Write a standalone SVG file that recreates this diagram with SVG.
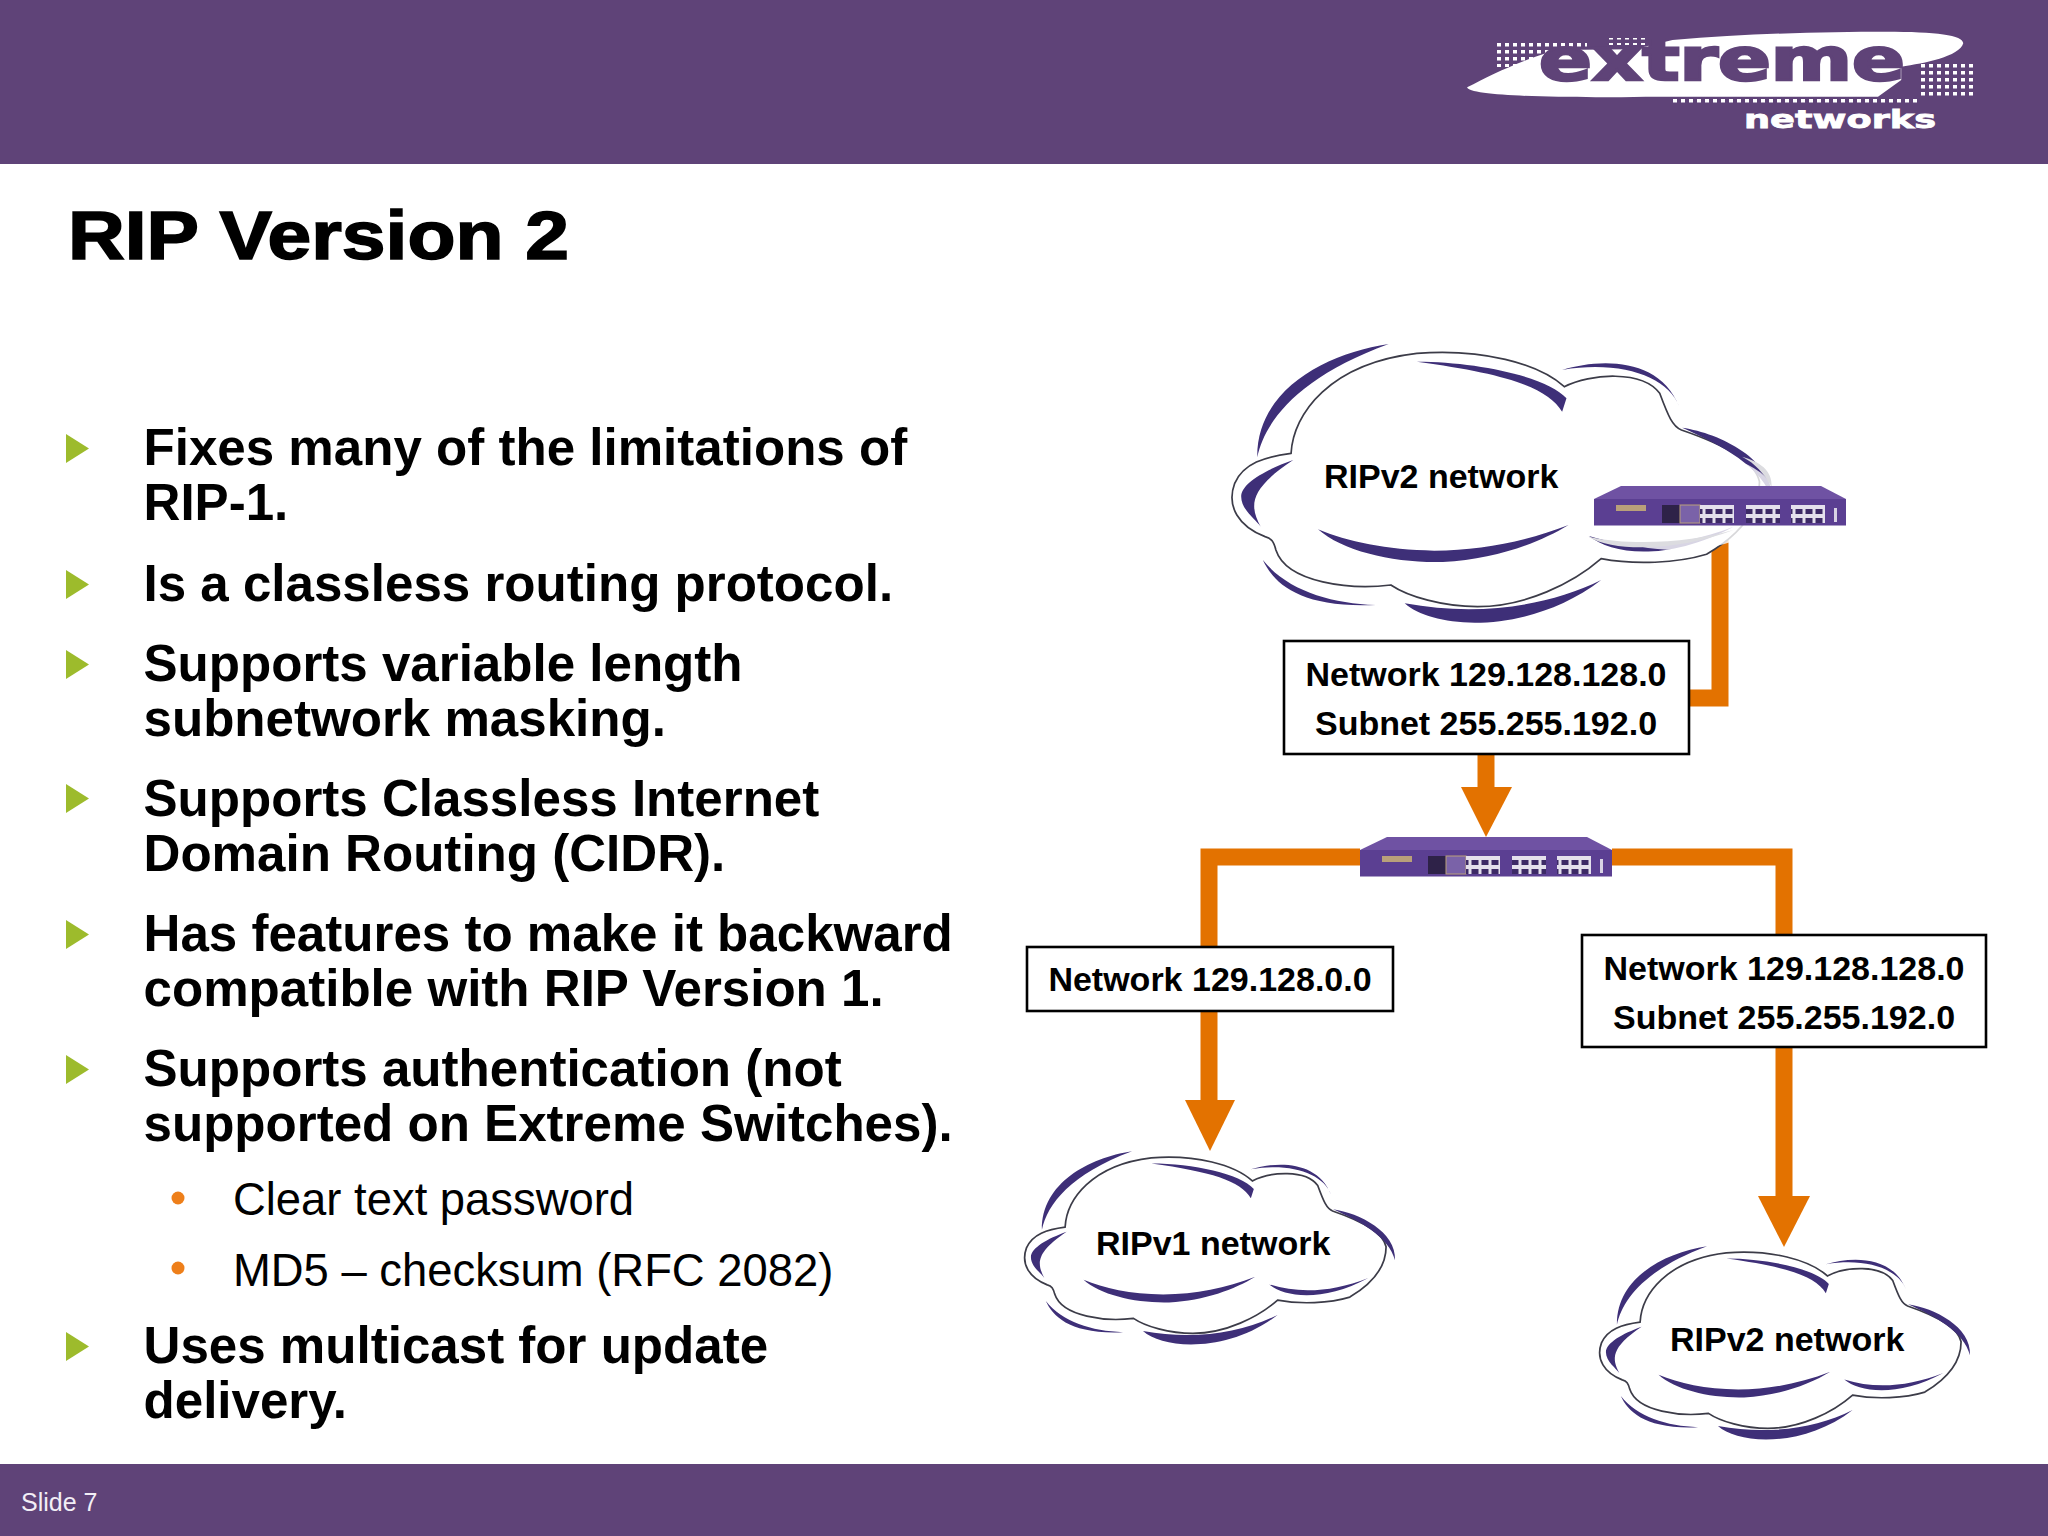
<svg xmlns="http://www.w3.org/2000/svg" xmlns:xlink="http://www.w3.org/1999/xlink" width="2048" height="1536" viewBox="0 0 2048 1536">
<style>
text{font-family:"Liberation Sans",Arial,sans-serif;fill:#000}
.b{font-size:51.100px;font-weight:bold}
.s{font-size:45.400px}
.l{font-size:34px;font-weight:bold;text-anchor:middle}
.c{font-size:34px;font-weight:bold}
.box{fill:#fff;stroke:#000;stroke-width:2.6}
.wire{fill:none;stroke:#e37200;stroke-width:17}
.head{fill:#e37200}
.tri{fill:#9dbb2c}
.dot{fill:#ee7f1a}
.band{fill:#5f4378}
.cd{fill:#3e2f78}
.ol{fill:#fff;stroke:#3c3c48;stroke-width:1.700;vector-effect:non-scaling-stroke}
</style>
<defs>
<pattern id="ht" width="8" height="7" patternUnits="userSpaceOnUse"><rect x="1" y="1" width="4" height="3.500" fill="#fff"/></pattern>
<pattern id="pt" width="10" height="20" patternUnits="userSpaceOnUse"><rect width="10" height="20" fill="#e4e0ec"/><rect x="1.500" y="3" width="7" height="5" fill="#3d2a66"/><rect x="1.500" y="12" width="7" height="5" fill="#3d2a66"/></pattern>
<g id="cloud">
<path class="ol" d="M210,400C215,280 300,130 500,100C650,85 780,130 840,200C900,160 1020,150 1060,220C1080,290 1090,320 1110,330C1200,370 1280,420 1290,485C1290,570 1250,640 1168,703C1100,730 1000,735 925,716C860,790 750,860 640,860C560,860 480,830 440,795C350,810 200,790 175,690C170,665 165,655 150,650C90,620 60,560 80,490C100,430 150,410 210,400Z"/>
<path class="cd" d="M435,72C290,100 130,210 132,412C150,300 230,170 435,72Z"/>
<path class="cd" d="M500,125C640,125 800,170 845,235L835,275C800,200 700,160 500,125Z"/>
<path class="cd" d="M835,150C920,115 1060,110 1105,260C1080,170 970,120 835,150Z"/>
<path class="cd" d="M1112,323C1200,340 1325,420 1320,544C1300,440 1200,375 1112,323Z"/>
<path class="cd" d="M215,420C150,450 95,490 95,530C95,570 130,600 140,620C115,560 110,510 215,420Z"/>
<path class="cd" d="M272,628C330,695 450,730 560,726C680,718 780,670 850,615C750,665 650,690 540,692C430,690 340,665 272,628Z"/>
<path class="cd" d="M897,648C950,705 1080,725 1230,620C1110,680 1000,690 897,648Z"/>
<path class="cd" d="M145,720C170,790 230,865 405,855C300,850 200,810 145,720Z"/>
<path class="cd" d="M472,850C540,930 760,945 925,780C800,860 640,890 472,850Z"/>
</g>
<g id="switch">
<path d="M27,0H227L252,13H0Z" fill="#6f52a3"/>
<rect y="13" width="252" height="26.500" fill="#5b3f92"/>
<rect x="22" y="19" width="30" height="6" fill="#b9a07a"/>
<rect x="68" y="19" width="18" height="18" fill="#2e2248"/>
<rect x="86" y="19" width="20" height="18" fill="#7a62a8" stroke="#b9a07a"/>
<rect x="106" y="19" width="34" height="18" fill="url(#pt)"/>
<rect x="152" y="19" width="34" height="18" fill="url(#pt)"/>
<rect x="197" y="19" width="34" height="18" fill="url(#pt)"/>
<rect x="240" y="22" width="3" height="14" fill="#d8d2e4"/>
</g>
</defs>

<rect id="header" class="band" width="2048" height="164"/>
<g id="logo">
<path fill="#fff" transform="translate(1440,0) scale(.3876,.3333)" d="M70,262C130,225 210,180 300,150L500,148L600,120C800,100 1000,95 1150,95C1280,95 1350,105 1350,130C1340,170 1250,190 1190,200L1190,240L1130,290L530,290C350,295 70,290 70,262Z"/>
<rect x="1917" y="63" width="60" height="34" fill="url(#ht)"/>
<rect x="1494" y="43" width="93" height="24" fill="url(#ht)"/>
<rect x="1672" y="97" width="245" height="6" fill="url(#ht)"/>
<rect x="1607" y="38" width="42" height="7" fill="url(#ht)"/>
<text x="1539" y="80" font-size="58" font-weight="bold" stroke="#5f4378" stroke-width="2.500" textLength="366" lengthAdjust="spacingAndGlyphs" style="font-family:'DejaVu Sans',sans-serif;fill:#5f4378">extreme</text>
<text x="1744" y="128" font-size="25" font-weight="bold" stroke="#fff" stroke-width=".8" textLength="192" lengthAdjust="spacingAndGlyphs" style="font-family:'DejaVu Sans',sans-serif;fill:#fff">networks</text>
</g>

<text id="title" x="68" y="259" font-size="68" font-weight="bold" stroke="#000" stroke-width="1.600" textLength="501" lengthAdjust="spacingAndGlyphs">RIP Version 2</text>

<g id="bullets">
<path class="tri" d="M66,434L89,448.500L66,463Z"/>
<path class="tri" d="M66,570L89,584.500L66,599Z"/>
<path class="tri" d="M66,650L89,664.500L66,679Z"/>
<path class="tri" d="M66,784L89,798.500L66,813Z"/>
<path class="tri" d="M66,920L89,934.500L66,949Z"/>
<path class="tri" d="M66,1055L89,1069.500L66,1084Z"/>
<path class="tri" d="M66,1332L89,1346.500L66,1361Z"/>
<circle class="dot" cx="178" cy="1198" r="6.500"/>
<circle class="dot" cx="178" cy="1268" r="6.500"/>
<text class="b" x="143.500" y="465">Fixes many of the limitations of</text>
<text class="b" x="143.500" y="520">RIP-1.</text>
<text class="b" x="143.500" y="601">Is a classless routing protocol.</text>
<text class="b" x="143.500" y="681">Supports variable length</text>
<text class="b" x="143.500" y="736">subnetwork masking.</text>
<text class="b" x="143.500" y="816">Supports Classless Internet</text>
<text class="b" x="143.500" y="871">Domain Routing (CIDR).</text>
<text class="b" x="143.500" y="951">Has features to make it backward</text>
<text class="b" x="143.500" y="1006">compatible with RIP Version 1.</text>
<text class="b" x="143.500" y="1086">Supports authentication (not</text>
<text class="b" x="143.500" y="1141">supported on Extreme Switches).</text>
<text class="s" x="233" y="1215">Clear text password</text>
<text class="s" x="233" y="1286">MD5 – checksum (RFC 2082)</text>
<text class="b" x="143.500" y="1363">Uses multicast for update</text>
<text class="b" x="143.500" y="1418">delivery.</text>
</g>

<g id="connectors">
<path class="wire" d="M1720,525V698H1688"/>
<path class="wire" d="M1486,754V790"/>
<path class="head" d="M1461,787H1512L1486,837Z"/>
<path class="wire" d="M1360,857H1209V947"/>
<path class="wire" d="M1612,857H1784V935"/>
<path class="wire" d="M1209,1011V1102"/>
<path class="head" d="M1185,1100H1235L1210,1151Z"/>
<path class="wire" d="M1784,1047V1198"/>
<path class="head" d="M1758,1196H1810L1784,1247Z"/>
</g>

<g id="cloud-top">
<use xlink:href="#cloud" href="#cloud" transform="translate(1200,320) scale(.4337,.3333)"/>
<ellipse cx="1677" cy="500" rx="100" ry="50" fill="#fff" opacity=".8"/>
<g transform="translate(1200,320) scale(.4337,.3333)" fill="#dcdce0">
<path d="M1250,410C1290,425 1320,450 1318,500C1300,460 1280,430 1250,410Z"/>
<path d="M895,650C960,700 1110,690 1230,630C1140,665 1000,680 895,650Z"/>
</g>
<text class="c" x="1324" y="488">RIPv2 network</text>
</g>
<g id="switch-top"><use xlink:href="#switch" href="#switch" x="1594" y="486"/></g>
<g id="label-a"><rect class="box" x="1284" y="641" width="405" height="113"/>
<text class="l" x="1486" y="686">Network 129.128.128.0</text><text class="l" x="1486" y="735">Subnet 255.255.192.0</text></g>
<g id="switch-mid"><use xlink:href="#switch" href="#switch" x="1360" y="837"/></g>
<g id="label-b"><rect class="box" x="1027" y="947" width="366" height="64"/>
<text class="l" x="1210" y="991">Network 129.128.0.0</text></g>
<g id="label-c"><rect class="box" x="1582" y="935" width="404" height="112"/>
<text class="l" x="1784" y="980">Network 129.128.128.0</text><text class="l" x="1784" y="1029">Subnet 255.255.192.0</text></g>
<g id="cloud-v1">
<use xlink:href="#cloud" href="#cloud" transform="translate(1002.700,1134.700) scale(.2972,.231)"/>
<text class="c" x="1096" y="1255">RIPv1 network</text>
</g>
<g id="cloud-v2">
<use xlink:href="#cloud" href="#cloud" transform="translate(1577.700,1229.700) scale(.2972,.231)"/>
<text class="c" x="1670" y="1351">RIPv2 network</text>
</g>

<rect id="footer" class="band" y="1464" width="2048" height="72"/>
<text id="slide" x="21" y="1511" font-size="25" style="fill:#f2eef6">Slide 7</text>
</svg>
